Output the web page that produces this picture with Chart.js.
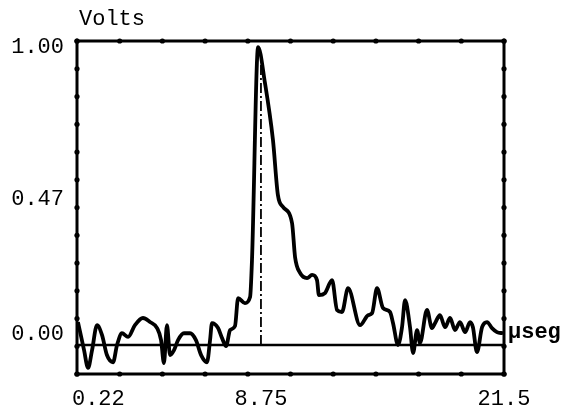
<!DOCTYPE html>
<html>
<head>
<meta charset="utf-8">
<script src="https://cdn.jsdelivr.net/npm/chart.js@4/dist/chart.umd.min.js"></script>
<style>
  body { margin: 0; background: #fff; }
  #wrap { width: 577px; height: 409px; }
</style>
</head>
<body>
<div id="wrap"><canvas id="pulse" width="577" height="409"></canvas></div>
<script>
/* =========================
   DATA
========================= */
const timeUs = [
  -0.85, -0.53, -0.32, -0.11, 0.15, 0.41, 0.67, 0.99, 1.20, 1.46,
  1.78, 2.14, 2.56, 2.93, 3.30, 3.51, 3.66, 3.82, 3.98, 4.19,
  4.40, 4.71, 5.03, 5.34, 5.61, 5.92, 6.08, 6.18, 6.50, 6.71,
  6.92, 7.13, 7.39, 7.55, 7.91, 8.18, 8.28, 8.60, 8.96, 9.38,
  9.64, 9.91, 10.38, 10.54, 10.80, 11.17, 11.43, 11.69, 11.79, 12.11,
  12.48, 12.74, 13.00, 13.32, 13.95, 14.37, 14.58, 14.84, 15.15, 15.52,
  15.68, 15.94, 16.15, 16.31, 16.57, 16.73, 16.94, 17.09, 17.46, 17.72,
  17.88, 18.14, 18.41, 18.67, 18.93, 19.19, 19.46, 19.72, 19.87, 20.08,
  20.35, 20.61, 20.87, 21.13, 21.45
];
const volts = [
  0.042, -0.056, -0.118, -0.056, 0.031, -0.003, -0.073, -0.098, -0.038, 0.003,
  -0.010, 0.031, 0.056, 0.042, 0.021, -0.021, -0.101, 0.031, -0.073, -0.056,
  -0.021, 0.003, 0.003, -0.021, -0.073, -0.098, -0.021, 0.038, 0.021, -0.014,
  -0.042, 0.014, 0.028, 0.125, 0.108, 0.129, 0.258, 1.000, 0.875, 0.676,
  0.484, 0.443, 0.387, 0.268, 0.213, 0.195, 0.206, 0.188, 0.136, 0.143,
  0.188, 0.084, 0.077, 0.160, 0.031, 0.066, 0.073, 0.160, 0.091, 0.077,
  0.038, -0.038, 0.024, 0.118, 0.024, -0.066, 0.014, -0.031, 0.084, 0.021,
  0.038, 0.066, 0.024, 0.056, 0.014, 0.042, 0.007, 0.042, 0.024, -0.063,
  0.024, 0.042, 0.021, 0.007, 0.003
];

const xTickValues = [0.22, 8.75, 21.5];
const yTickValues = [0.00, 0.47, 1.00];
const markerTime = 8.75;       // dash-dot line at the peak
const markerTop = 0.97;
const baselineVolts = -0.038;  // drawn reference line

/* =========================
   AXIS RANGE
========================= */
const xMin = -0.9, xMax = 21.5;
const yMin = -0.139, yMax = 1.021;

const FONT = "'Liberation Mono', 'DejaVu Sans Mono', monospace";

/* =========================
   FRAME + DOTS + LABELS
========================= */
const framePlugin = {
  id: 'frame',
  afterDatasetsDraw(chart) {
    const { ctx, chartArea: a, scales } = chart;
    ctx.save();
    ctx.strokeStyle = '#000';
    ctx.lineWidth = 3;
    ctx.strokeRect(a.left, a.top, a.right - a.left, a.bottom - a.top);

    // little dots along the frame
    ctx.fillStyle = '#000';
    for (let i = 0; i <= 10; i++) {
      const px = scales.x.getPixelForValue(xMin + (xMax - xMin) * i / 10);
      [a.top, a.bottom].forEach(py => {
        ctx.beginPath(); ctx.arc(px, py, 2.6, 0, Math.PI * 2); ctx.fill();
      });
    }
    for (let j = 0; j <= 12; j++) {
      const py = scales.y.getPixelForValue(yMin + (yMax - yMin) * j / 12);
      [a.left, a.right].forEach(px => {
        ctx.beginPath(); ctx.arc(px, py, 2.6, 0, Math.PI * 2); ctx.fill();
      });
    }
    ctx.restore();
  },
  afterDraw(chart) {
    const { ctx, chartArea: a, scales } = chart;
    ctx.save();
    ctx.fillStyle = '#000';
    ctx.font = "22px " + FONT;
    ctx.textAlign = 'left';
    ctx.textBaseline = 'alphabetic';
    ctx.fillText('Volts', a.left + 2, 25);

    ctx.font = "bold 22px " + FONT;
    ctx.textBaseline = 'middle';
    ctx.fillText('µseg', a.right + 4, scales.y.getPixelForValue(0.005));
    ctx.restore();
  }
};

/* =========================
   CHART
========================= */
const ctx = document.getElementById('pulse').getContext('2d');

const pulsePoints = timeUs.map((t, i) => ({ x: t, y: volts[i] }));

new Chart(ctx, {
  type: 'line',
  data: {
    datasets: [
      {
        data: pulsePoints,
        borderColor: '#000',
        borderWidth: 3.8,
        pointRadius: 0,
        cubicInterpolationMode: 'monotone',
        fill: false
      },
      {
        data: [{ x: xMin, y: baselineVolts }, { x: xMax, y: baselineVolts }],
        borderColor: '#000',
        borderWidth: 2.5,
        pointRadius: 0
      },
      {
        data: [{ x: markerTime, y: baselineVolts }, { x: markerTime, y: markerTop }],
        borderColor: '#000',
        borderWidth: 1.8,
        borderDash: [10, 3, 2, 3],
        pointRadius: 0
      }
    ]
  },
  options: {
    responsive: false,
    animation: false,
    layout: { padding: { top: 41, right: 73, bottom: 0, left: 0 } },
    plugins: {
      legend: { display: false },
      tooltip: { enabled: false }
    },
    scales: {
      x: {
        type: 'linear',
        min: xMin,
        max: xMax,
        grid: { display: false, drawTicks: false },
        border: { display: false },
        afterBuildTicks: s => { s.ticks = xTickValues.map(v => ({ value: v })); },
        afterFit: s => { s.height = 35; },
        ticks: {
          padding: 12,
          maxRotation: 0,
          color: '#000',
          font: { family: FONT, size: 22 },
          callback: v => String(v)
        }
      },
      y: {
        min: yMin,
        max: yMax,
        grid: { display: false, drawTicks: false },
        border: { display: false },
        afterBuildTicks: s => { s.ticks = yTickValues.map(v => ({ value: v })); },
        afterFit: s => { s.width = 77; },
        ticks: {
          padding: 13,
          color: '#000',
          font: { family: FONT, size: 22 },
          callback: v => Number(v).toFixed(2)
        }
      }
    }
  },
  plugins: [framePlugin]
});
</script>
</body>
</html>
